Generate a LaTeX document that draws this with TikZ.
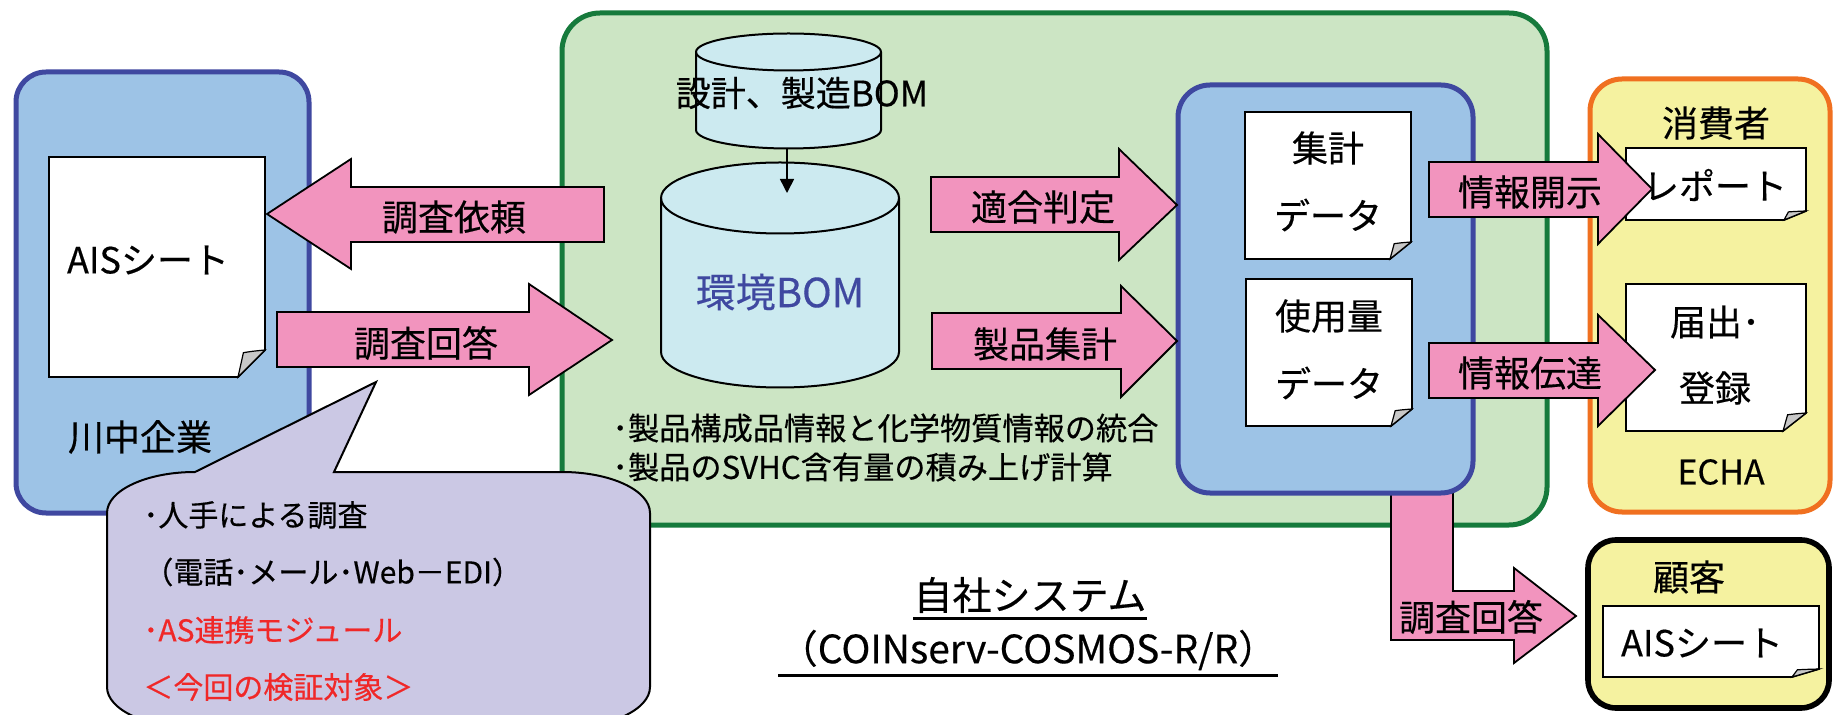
\documentclass[tikz,border=0pt]{standalone}
\usepackage{fontspec}
\setmainfont{Noto Sans CJK JP}[FakeBold=0.4]
\usetikzlibrary{arrows.meta}
\definecolor{boxblue}{RGB}{157,195,230}
\definecolor{boxblueline}{RGB}{63,72,160}
\definecolor{sysgreen}{RGB}{204,229,196}
\definecolor{sysgreenline}{RGB}{22,122,60}
\definecolor{arrowpink}{RGB}{242,148,190}
\definecolor{dbcyan}{RGB}{204,234,240}
\definecolor{bomblue}{RGB}{63,72,160}
\definecolor{extyellow}{RGB}{245,242,160}
\definecolor{extorange}{RGB}{240,112,32}
\definecolor{bubblelav}{RGB}{203,200,228}
\definecolor{alertred}{RGB}{240,40,40}
\definecolor{foldgray}{RGB}{200,200,200}
% folded document: x1 y1 x2 y2 fx fy
\newcommand\foldeddoc[6]{%
  \filldraw[docstyle] (#1,#2) -- (#3,#2) -- (#3,#4-#6) -- (#3-#5,#4) -- (#1,#4) -- cycle;
  \filldraw[foldstyle] (#3-#5,#4) -- (#3-0.8*#5,#4-0.9*#6) .. controls (#3-0.5*#5,#4-0.95*#6) .. (#3,#4-#6) -- cycle;
}
\begin{document}
\begin{tikzpicture}[x=0.5pt,y=-0.5pt,
  bluebox/.style={fill=boxblue,draw=boxblueline,line width=2.5pt},
  greenbox/.style={fill=sysgreen,draw=sysgreenline,line width=2.5pt,rounded corners=19pt},
  orangebox/.style={fill=extyellow,draw=extorange,line width=2.5pt,rounded corners=16pt},
  custbox/.style={fill=extyellow,draw=black,line width=2.8pt,rounded corners=14pt},
  dbstyle/.style={fill=dbcyan,draw=black,line width=1pt},
  blockarrow/.style={fill=arrowpink,draw=black,line width=0.9pt,line join=miter},
  docstyle/.style={fill=white,draw=black,line width=0.9pt},
  foldstyle/.style={fill=foldgray,draw=black,line width=0.6pt},
  bubble/.style={fill=bubblelav,draw=black,line width=1pt},
  lbl/.style={inner sep=0pt,font=\fontsize{18}{18}\selectfont},
  bomlbl/.style={inner sep=0pt,text=bomblue,font=\fontsize{20}{20}\selectfont},
  notelbl/.style={inner sep=0pt,anchor=west,font=\fontsize{15.6}{15.6}\selectfont},
  bublbl/.style={inner sep=0pt,anchor=west,font=\fontsize{15}{15}\selectfont},
  ttllbl/.style={inner sep=0pt,font=\fontsize{19.5}{19.5}\selectfont},
  uline/.style={line width=1.3pt}
]
\useasboundingbox (0,0) rectangle (1834,715);
\clip (0,0) rectangle (1834,715);
\fill[white] (0,0) rectangle (1834,715);

% outer boxes
\draw[bluebox,rounded corners=15pt] (16,72) rectangle (309,513);
\draw[greenbox] (562,13) rectangle (1547,525);
\draw[orangebox] (1590,79) rectangle (1830,512);
\draw[custbox] (1588,540) rectangle (1829,708);

% databases
\filldraw[dbstyle] (696,52) -- (696,130) arc[start angle=180,end angle=360,x radius=46.25pt,y radius=9.25pt] -- (881,52) arc[start angle=0,end angle=180,x radius=46.25pt,y radius=9.25pt] -- cycle;
\draw[dbstyle,fill=none] (696,52) arc[start angle=180,end angle=360,x radius=46.25pt,y radius=9.25pt];
\filldraw[dbstyle] (661,198) -- (661,352) arc[start angle=180,end angle=360,x radius=59.5pt,y radius=17.75pt] -- (899,198) arc[start angle=0,end angle=180,x radius=59.5pt,y radius=17.75pt] -- cycle;
\draw[dbstyle,fill=none] (661,198) arc[start angle=180,end angle=360,x radius=59.5pt,y radius=17.75pt];
\coordinate (dbarrowstart) at (787,148);
\coordinate (dbarrowend) at (787,193);
\draw[-{Triangle[length=7pt,width=7pt]},line width=0.8pt] (dbarrowstart) -- (dbarrowend);

% bent arrow to customer
\filldraw[blockarrow] (1391,480) -- (1391,640) -- (1514,640) -- (1514,663) -- (1576,616) -- (1514,568) -- (1514,591) -- (1453,591) -- (1453,480) -- cycle;

% inner blue box
\draw[bluebox,rounded corners=16pt] (1178,85) rectangle (1473,493);

% documents
\foldeddoc{49}{157}{265}{377}{27}{27}
\foldeddoc{1245}{112}{1411}{259}{21}{17}
\foldeddoc{1246}{279}{1412}{426}{21}{17}
\foldeddoc{1626}{148}{1806}{220}{22}{9}
\foldeddoc{1626}{284}{1806}{431}{23}{18}
\foldeddoc{1603}{606}{1819}{677}{27}{8}

% block arrows
\filldraw[blockarrow] (267,214) -- (351,159) -- (351,187) -- (604,187) -- (604,242) -- (351,242) -- (351,269) -- cycle;
\filldraw[blockarrow] (277,312) -- (529,312) -- (529,284) -- (612,340) -- (529,395) -- (529,367) -- (277,367) -- cycle;
\filldraw[blockarrow] (931,177) -- (1119,177) -- (1119,149) -- (1177,205) -- (1119,260) -- (1119,232) -- (931,232) -- cycle;
\filldraw[blockarrow] (932,313) -- (1121,313) -- (1121,286) -- (1177,341) -- (1121,397) -- (1121,369) -- (932,369) -- cycle;
\filldraw[blockarrow] (1429,162) -- (1598,162) -- (1598,134) -- (1652,189) -- (1598,244) -- (1598,217) -- (1429,217) -- cycle;
\filldraw[blockarrow] (1429,343) -- (1598,343) -- (1598,315) -- (1655,370) -- (1598,426) -- (1598,398) -- (1429,398) -- cycle;

% speech bubble
\filldraw[bubble] (195,472) -- (376,382) -- (334,472) -- (562,472)
  arc[start angle=90,end angle=0,x radius=44pt,y radius=20.5pt] -- (650,687)
  arc[start angle=0,end angle=-90,x radius=44pt,y radius=20.5pt] -- (195,728)
  arc[start angle=270,end angle=180,x radius=44pt,y radius=20.5pt] -- (107,513)
  arc[start angle=180,end angle=90,x radius=44pt,y radius=20.5pt] -- cycle;

% labels
\node[lbl] (aisleft) at (148,260) {AISシート};
\node[lbl] (kawanaka) at (140,437) {川中企業};
\node[lbl] (irai) at (454,217) {調査依頼};
\node[lbl] (kaitou) at (426,343) {調査回答};
\node[lbl,font=\fontsize{17.5}{17.5}\selectfont] (sekkei) at (802,93) {設計、製造BOM};
\node[bomlbl] (kankyo) at (780,292) {環境BOM};
\node[lbl] (tekigou) at (1043,207) {適合判定};
\node[lbl] (seihin) at (1045,344) {製品集計};
\node[notelbl] (note1) at (612,428) {･製品構成品情報と化学物質情報の統合};
\node[notelbl] (note2) at (612,467) {･製品のSVHC含有量の積み上げ計算};
\node[lbl] (shukei1) at (1328,148) {集計};
\node[lbl] (shukei2) at (1328,215) {データ};
\node[lbl] (shiyou1) at (1329,316) {使用量};
\node[lbl] (shiyou2) at (1329,383) {データ};
\node[lbl] (kaiji) at (1530,192) {情報開示};
\node[lbl] (dentatsu) at (1530,373) {情報伝達};
\node[lbl] (shohisha) at (1716,123) {消費者};
\node[lbl] (report) at (1715,185) {レポート};
\node[lbl] (todoke) at (1715,322) {届出･};
\node[lbl] (touroku) at (1715,388) {登録};
\node[lbl,font=\fontsize{17}{17}\selectfont] (echa) at (1721,472) {ECHA};
\node[lbl] (kaitou2) at (1471,617) {調査回答};
\node[lbl] (kokyaku) at (1689,577) {顧客};
\node[lbl] (aisright) at (1702,643) {AISシート};
\node[ttllbl] (ttl1) at (1030,595) {自社システム};
\node[ttllbl] (ttl2) at (1028,650) {（COINserv-COSMOS-R/R）};
\draw[uline] ([yshift=-2.5pt]ttl1.south west) -- ([yshift=-2.5pt]ttl1.south east);
\draw[uline] ([yshift=-2.5pt]ttl2.south west) -- ([yshift=-2.5pt]ttl2.south east);
\node[bublbl] (bub1) at (143,515) {･人手による調査};
\node[bublbl] (bub2) at (143,572) {（電話･メール･Web－EDI）};
\node[bublbl,text=alertred] (bub3) at (143,630) {･AS連携モジュール};
\node[bublbl,text=alertred] (bub4) at (143,687) {＜今回の検証対象＞};
\end{tikzpicture}
\end{document}
